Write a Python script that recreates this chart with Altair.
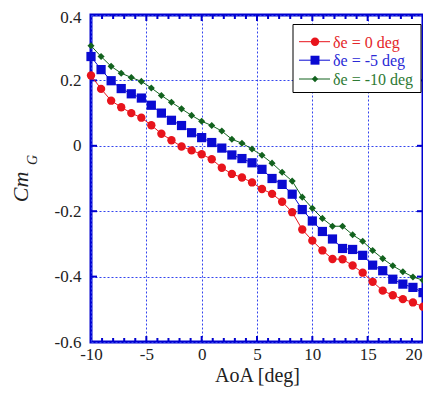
import altair as alt
import pandas as pd

# ---- data ----
aoa = [-10, -9.09, -8.18, -7.27, -6.36, -5.45, -4.55, -3.64, -2.73, -1.82, -0.91, 0,
       0.91, 1.82, 2.73, 3.64, 4.55, 5.45, 6.36, 7.27, 8.18, 9.09, 10, 10.91,
       11.82, 12.73, 13.64, 14.55, 15.45, 16.36, 17.27, 18.18, 19.09, 20]
cm_de0 = [0.215, 0.174, 0.138, 0.118, 0.100, 0.086, 0.063, 0.037, 0.017, -0.002,
          -0.014, -0.026, -0.041, -0.067, -0.086, -0.097, -0.112, -0.132, -0.147,
          -0.171, -0.203, -0.256, -0.290, -0.320, -0.346, -0.347, -0.366, -0.388,
          -0.416, -0.443, -0.457, -0.469, -0.479, -0.492]
cm_de5 = [0.273, 0.233, 0.199, 0.175, 0.159, 0.146, 0.124, 0.100, 0.078, 0.062,
          0.040, 0.025, 0.010, -0.007, -0.028, -0.039, -0.052, -0.072, -0.100,
          -0.118, -0.148, -0.195, -0.230, -0.262, -0.285, -0.314, -0.317, -0.335,
          -0.365, -0.382, -0.408, -0.423, -0.433, -0.449]
cm_de10 = [0.306, 0.273, 0.243, 0.222, 0.209, 0.197, 0.177, 0.154, 0.133, 0.113,
           0.093, 0.075, 0.062, 0.045, 0.020, 0.008, -0.010, -0.029, -0.053,
           -0.081, -0.108, -0.157, -0.191, -0.222, -0.246, -0.246, -0.272, -0.292,
           -0.320, -0.345, -0.367, -0.385, -0.401, -0.411]
series_names = ["δe = 0 deg", "δe = -5 deg", "δe = -10 deg"]
x_ticks = [-10, -5, 0, 5, 10, 15, 20]
x_major_inner = [-5, 0, 5, 10, 15]
x_minor = [v for v in range(-9, 20) if v % 5 != 0]
y_ticks = [0.4, 0.2, 0, -0.2, -0.4, -0.6]
y_inner = [0.2, 0, -0.2, -0.4]

# ---- styling ----
W, H = 332, 327
FONT = "Liberation Serif"
AXIS_BLUE = "#0000d0"
GRID_BLUE = "#3344ee"
marker_colors = ["#e8141c", "#0a0ad2", "#12621e"]
text_colors = ["#e4262a", "#2a2ad6", "#2e7a34"]
shapes = ["circle", "square", "diamond"]
sizes = [70, 85, 50]
legend_sizes = [70, 80, 40]

xscale = alt.Scale(domain=[-10, 20], nice=False, zero=False)
yscale = alt.Scale(domain=[-0.6, 0.4], nice=False, zero=False)

xaxis = alt.Axis(values=x_ticks, grid=True, gridColor=GRID_BLUE, gridDash=[2, 2],
                 gridWidth=1, domain=False, ticks=False, labelFont=FONT,
                 labelFontSize=17, labelColor="#222", labelPadding=4,
                 labelExpr="'' + datum.value", labelFlush=False,
                 labelAlign={"condition": {"test": "datum.value == 20", "value": "right"},
                             "value": "center"},
                 labelOffset={"condition": {"test": "datum.value == 20", "value": -1},
                              "value": 0},
                 title="AoA [deg]", titleFont=FONT, titleFontSize=20,
                 titleFontWeight="normal", titleColor="#222", titlePadding=3)
yaxis = alt.Axis(values=y_ticks, grid=True, gridColor=GRID_BLUE, gridDash=[2, 2],
                 gridWidth=1, domain=False, ticks=False, labelFont=FONT,
                 labelFontSize=17, labelColor="#222", labelPadding=10,
                 labelExpr="'' + round(datum.value * 10) / 10", labelFlush=False,
                 labelOffset={"condition": {"test": "datum.value == 0.4", "value": 2},
                              "value": 0},
                 title=None)

layers = []

# base layer with axes / grid
base_df = pd.DataFrame({"x": aoa, "y": cm_de0})
layers.append(alt.Chart(base_df).mark_point(opacity=0).encode(
    x=alt.X("x:Q", scale=xscale, axis=xaxis),
    y=alt.Y("y:Q", scale=yscale, axis=yaxis)))

# inward ticks
minor_df = pd.DataFrame({"x": x_minor})
major_df = pd.DataFrame({"x": x_major_inner})
ytick_df = pd.DataFrame({"y": y_inner})
for df, ln in [(minor_df, 4), (major_df, 6)]:
    layers.append(alt.Chart(df).mark_rule(color=AXIS_BLUE, strokeWidth=2).encode(
        x=alt.X("x:Q", scale=xscale), y=alt.value(H), y2=alt.value(H - ln)))
    layers.append(alt.Chart(df).mark_rule(color=AXIS_BLUE, strokeWidth=2).encode(
        x=alt.X("x:Q", scale=xscale), y=alt.value(0), y2=alt.value(ln)))
layers.append(alt.Chart(ytick_df).mark_rule(color=AXIS_BLUE, strokeWidth=2).encode(
    y=alt.Y("y:Q", scale=yscale), x=alt.value(0), x2=alt.value(6)))
layers.append(alt.Chart(ytick_df).mark_rule(color=AXIS_BLUE, strokeWidth=2).encode(
    y=alt.Y("y:Q", scale=yscale), x=alt.value(W), x2=alt.value(W - 6)))

# data series
series_vals = [cm_de0, cm_de5, cm_de10]
for i in [2, 1, 0]:
    df = pd.DataFrame({"x": aoa, "y": series_vals[i]})
    enc = dict(x=alt.X("x:Q", scale=xscale), y=alt.Y("y:Q", scale=yscale))
    layers.append(alt.Chart(df).mark_line(color=marker_colors[i], strokeWidth=1,
                                          clip=False).encode(**enc))
    layers.append(alt.Chart(df).mark_point(shape=shapes[i], filled=True, opacity=1,
                                           size=sizes[i], color=marker_colors[i],
                                           clip=False).encode(**enc))

# y-axis title Cm_G
layers.append(alt.Chart(pd.DataFrame({"t": ["Cm"]})).mark_text(
    angle=270, font=FONT, fontStyle="italic", fontSize=22, align="center",
    baseline="middle", color="#222").encode(
    text="t:N", x=alt.value(-70), y=alt.value(172)))
layers.append(alt.Chart(pd.DataFrame({"t": ["G"]})).mark_text(
    angle=270, font=FONT, fontStyle="italic", fontSize=14, align="center",
    baseline="middle", color="#222").encode(
    text="t:N", x=alt.value(-58), y=alt.value(145)))

# legend
layers.append(alt.Chart(pd.DataFrame({"a": [0]})).mark_rect(
    fill="white", stroke="black", strokeWidth=1).encode(
    x=alt.value(202), x2=alt.value(330), y=alt.value(9.5), y2=alt.value(77.5)))
leg_y = [26.7, 45.2, 64]
for i in range(3):
    ldf = pd.DataFrame({"label": [series_names[i]]})
    layers.append(alt.Chart(ldf).mark_rule(color=marker_colors[i], strokeWidth=1).encode(
        x=alt.value(208), x2=alt.value(239), y=alt.value(leg_y[i])))
    layers.append(alt.Chart(ldf).mark_point(shape=shapes[i], filled=True, opacity=1,
                                            size=legend_sizes[i],
                                            color=marker_colors[i]).encode(
        x=alt.value(224), y=alt.value(leg_y[i])))
    layers.append(alt.Chart(ldf).mark_text(font=FONT, fontSize=16, align="left",
                                           baseline="middle",
                                           color=text_colors[i]).encode(
        text="label:N", x=alt.value(242), y=alt.value(leg_y[i] + 1)))

chart = alt.layer(*layers).properties(
    width=W, height=H,
    autosize=alt.AutoSizeParams(type="none"),
    padding={"left": 83, "top": 7, "right": 0, "bottom": 46},
    background="white",
).configure_view(stroke=AXIS_BLUE, strokeWidth=3)

chart.save("out.html", embed_options={"renderer": "svg", "actions": False})
